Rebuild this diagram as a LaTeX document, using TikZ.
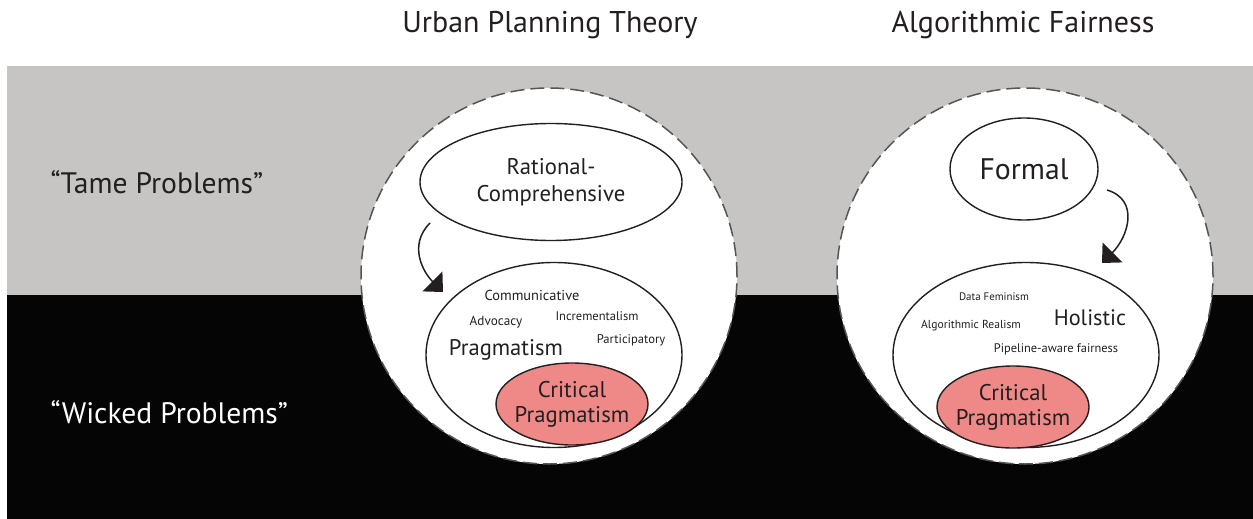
\documentclass[tikz,border=0pt]{standalone}
\usepackage{fontspec}
\setmainfont{PT Sans}
\usetikzlibrary{shapes.geometric,arrows.meta}
\definecolor{bandgray}{RGB}{198,197,195}
\definecolor{bandblack}{RGB}{5,5,5}
\definecolor{txt}{RGB}{35,31,32}
\definecolor{critpink}{RGB}{238,137,135}
\definecolor{dashgray}{RGB}{85,85,85}
\begin{document}
\begin{tikzpicture}[x=1pt,y=-1pt,
  bigcircle/.style={circle, draw=dashgray, dash pattern=on 14pt off 6pt, line width=1.5pt, fill=white, minimum size=376pt, inner sep=0pt},
  ell/.style={ellipse, draw=txt, line width=1.4pt, inner sep=0pt},
  crit/.style={ell, fill=critpink},
  title/.style={anchor=base, text=txt, font=\fontsize{30}{36}\selectfont},
  rowlabel/.style={anchor=base west, font=\fontsize{29.6}{36}\selectfont},
  bigword/.style={text=txt, align=center, font=\fontsize{22.7}{25}\selectfont},
  word/.style={anchor=base, text=txt},
  arr/.style={draw=txt, line width=1.5pt, -{Triangle[length=15pt,width=28pt]}}
]
\useasboundingbox (0,0) rectangle (1253,519);
% bands
\fill[bandgray] (7,66) rectangle (1253,295);
\fill[bandblack] (7,295) rectangle (1253,519);
% titles
\node[title] (t1) at (550,33) {Urban Planning Theory};
\node[title] (t2) at (1023,33) {Algorithmic Fairness};
% row labels
\node[rowlabel, text=txt] (tame) at (47,193) {“Tame Problems”};
\node[rowlabel, text=white] (wicked) at (47,423) {“Wicked Problems”};
% big circles
\node[bigcircle] (c1) at (549,276) {};
\node[bigcircle] (c2) at (1025,276) {};
% left: urban planning
\node[ell, minimum width=262pt, minimum height=117pt] (rc) at (551,182) {};
\node[bigword, font=\fontsize{22.7}{27}\selectfont] (rctext) at (rc.center) {Rational-\\Comprehensive};
\node[ell, minimum width=256pt, minimum height=185pt] (prag) at (554,355) {};
\node[crit, minimum width=152pt, minimum height=82pt] (cp1) at (572,404) {};
\node[bigword] (cp1text) at (cp1.center) {Critical\\Pragmatism};
\node[word, font=\fontsize{14.4}{16}\selectfont] (comm) at (532,300) {Communicative};
\node[word, font=\fontsize{13.2}{16}\selectfont] (advo) at (496,325) {Advocacy};
\node[word, font=\fontsize{12.5}{15}\selectfont] (incr) at (597,320) {Incrementalism};
\node[word, font=\fontsize{12.6}{15}\selectfont] (part) at (631,343) {Participatory};
\node[bigword, anchor=base, font=\fontsize{22.6}{26}\selectfont] (pragw) at (506,355) {Pragmatism};
\coordinate (a1s) at (430,223);
\coordinate (a1e) at (443,292);
\draw[arr] (a1s) .. controls (408,245) and (423,272) .. (a1e);
% right: algorithmic fairness
\node[ell, minimum width=148pt, minimum height=102pt] (formal) at (1024,169) {};
\node[text=txt, font=\fontsize{29.7}{34}\selectfont] (formaltext) at (formal.center) {Formal};
\node[ell, minimum width=266pt, minimum height=185pt] (holi) at (1026,355) {};
\node[crit, minimum width=152pt, minimum height=82pt] (cp2) at (1013,407) {};
\node[bigword] (cp2text) at (cp2.center) {Critical\\Pragmatism};
\node[word, font=\fontsize{10.9}{13}\selectfont] (dataf) at (994,300) {Data Feminism};
\node[word, font=\fontsize{11.6}{14}\selectfont] (algr) at (971,328) {Algorithmic Realism};
\node[word, font=\fontsize{22.3}{26}\selectfont] (holw) at (1090,325) {Holistic};
\node[word, font=\fontsize{12.4}{15}\selectfont] (pipe) at (1056,352) {Pipeline-aware fairness};
\coordinate (a2s) at (1107,190);
\coordinate (a2e) at (1102,263);
\draw[arr] (a2s) .. controls (1140,200) and (1128,237) .. (a2e);
\end{tikzpicture}
\end{document}
